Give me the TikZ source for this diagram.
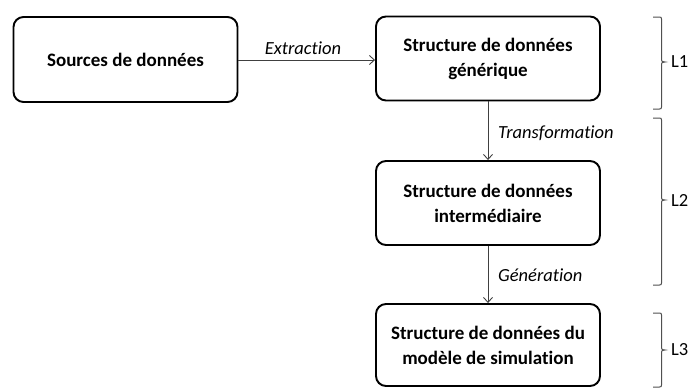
\documentclass[tikz,border=0pt]{standalone}
\usepackage{fontspec}
\setmainfont[Ligatures={NoCommon}]{Carlito}
\usetikzlibrary{arrows.meta}
\definecolor{conn}{HTML}{404040}
\definecolor{brc}{HTML}{505050}
\tikzset{
  boxnode/.style={draw=black, line width=1.9pt, rounded corners=10pt, align=center,
    font=\fontsize{19}{25}\selectfont\bfseries, inner sep=0pt},
  flow/.style={draw=conn, line width=0.9pt, -{Straight Barb[length=5pt,width=9pt]}},
  flowlabel/.style={font=\fontsize{18.5}{20}\selectfont\itshape, inner sep=0pt},
  lvl/.style={font=\fontsize{18.5}{20}\selectfont, inner sep=0pt, anchor=west},
  brace/.style={draw=brc, line width=1pt}
}
\newcommand{\lvlbrace}[3]{% top, bottom, mid
  \draw[brace] (653,#1) -- (659.5,#1) .. controls (661,#1) and (661.5,#1+0.5) .. (661.5,#1+2)
    -- (661.5,#3-2) .. controls (661.5,#3-0.5) and (662.5,#3) .. (665,#3)
    .. controls (662.5,#3) and (661.5,#3+0.5) .. (661.5,#3+2)
    -- (661.5,#2-2) .. controls (661.5,#2-0.5) and (661,#2) .. (659.5,#2) -- (653,#2);}
\begin{document}
\begin{tikzpicture}[x=1pt,y=-1pt]
\useasboundingbox (0,0) rectangle (693,388);
\node[boxnode, minimum width=224pt, minimum height=85pt] (src) at (125.5,59.5) {Sources de données};
\node[boxnode, minimum width=224pt, minimum height=84pt] (gen) at (488,58.5) {Structure de données\\générique};
\node[boxnode, minimum width=224pt, minimum height=84pt] (int) at (488,203) {Structure de données\\intermédiaire};
\node[boxnode, minimum width=224pt, minimum height=82pt] (sim) at (488,345) {Structure de données du\\modèle de simulation};
\draw[flow] (src.east |- 0,60) -- (gen.west |- 0,60);
\draw[flow] (gen.south) -- (int.north);
\draw[flow] (int.south) -- (sim.north);
\node[flowlabel] (lx) at (303,48) {Extraction};
\node[flowlabel, anchor=west] (lt) at (498,133) {Transformation};
\node[flowlabel, anchor=west] (lg) at (498,275) {Génération};
\lvlbrace{17}{109}{62}
\lvlbrace{118}{285}{200}
\lvlbrace{313}{387}{350}
\node[lvl] (l1) at (671,62) {L1};
\node[lvl] (l2) at (671,200) {L2};
\node[lvl] (l3) at (671,350) {L3};
\end{tikzpicture}
\end{document}
